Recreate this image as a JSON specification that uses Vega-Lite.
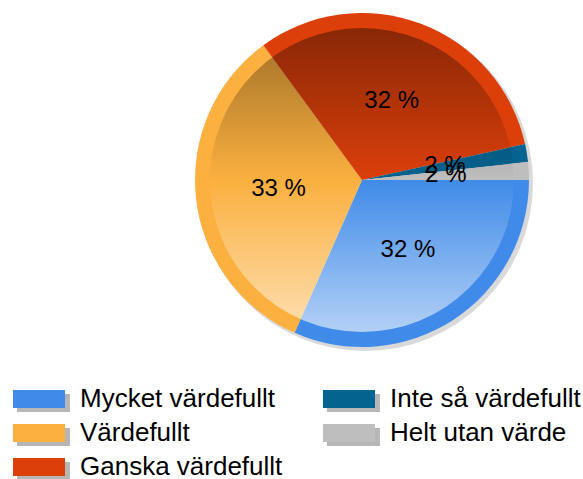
{
  "$schema": "https://vega.github.io/schema/vega-lite/v6.json",
  "width": 334,
  "height": 334,
  "autosize": {"type": "none"},
  "padding": {"left": 195, "top": 13, "right": 54, "bottom": 132},
  "background": "white",
  "config": {
    "view": {"stroke": null},
    "legend": {
      "orient": "none",
      "legendX": -182,
      "legendY": 377,
      "columns": 2,
      "columnPadding": 40,
      "rowPadding": 8,
      "padding": 0,
      "clipHeight": 18,
      "symbolType": "M-1,-0.346H1V0.346H-1Z",
      "symbolSize": 2704,
      "symbolStrokeWidth": 0,
      "symbolOpacity": 1,
      "labelOffset": 15,
      "labelFont": "Liberation Sans",
      "labelFontSize": 26,
      "labelColor": "#000000",
      "labelLimit": 400,
      "title": null
    }
  },
  "layer": [
    {
      "data": {"values": [{"k": 1}]},
      "mark": {"type": "arc", "theta": 0, "theta2": 6.2832, "outerRadius": 168, "xOffset": 3, "yOffset": 3, "fill": "#000000", "opacity": 0.15}
    },
    {
      "data": {"values": [
        {"cat": "Mycket värdefullt", "sh": "Mycket värdefullt", "n": 55, "ord": 1, "label": "32 %"},
        {"cat": "Värdefullt", "sh": "Värdefullt", "n": 58, "ord": 2, "label": "33 %"},
        {"cat": "Ganska värdefullt", "sh": "Ganska värdefullt", "n": 55, "ord": 3, "label": "32 %"},
        {"cat": "Inte så värdefullt", "sh": "Inte så värdefullt", "n": 3, "ord": 4, "label": "2 %"},
        {"cat": "Helt utan värde", "sh": "Helt utan värde", "n": 3, "ord": 5, "label": "2 %"}
      ]},
      "encoding": {
        "theta": {"field": "n", "type": "quantitative", "stack": true, "scale": {"range": [1.5708, 7.854]}},
        "order": {"field": "ord", "type": "quantitative", "sort": "ascending"}
      },
      "layer": [
        {
          "mark": {"type": "arc", "outerRadius": 167, "opacity": 0},
          "encoding": {
            "fill": {
              "field": "sh",
              "type": "nominal",
              "sort": {"field": "ord", "op": "min", "order": "ascending"},
              "scale": {"range": ["#7a7a7a", "#7a7a7a", "#7a7a7a", "#7a7a7a", "#7a7a7a"]},
              "legend": {
                "symbolType": "M1,-0.19H1.19V0.536H-0.85V0.346H1Z",
                "symbolOpacity": 0.55,
                "labelColor": "rgba(0,0,0,0)"
              }
            }
          }
        },
        {
          "mark": {"type": "arc", "outerRadius": 167, "stroke": null},
          "encoding": {
            "color": {
              "field": "cat",
              "type": "nominal",
              "scale": {
                "domain": ["Mycket värdefullt", "Värdefullt", "Ganska värdefullt", "Inte så värdefullt", "Helt utan värde"],
                "range": ["#408be9", "#fbb03f", "#dc3f0a", "#05638f", "#bebebe"]
              },
              "legend": {}
            }
          }
        },
        {
          "data": {"values": [{"k": 1}]},
          "mark": {
            "type": "arc", "theta": 0, "theta2": 6.2832, "outerRadius": 152,
            "fill": {
              "gradient": "linear", "x1": 0, "y1": 0, "x2": 0, "y2": 1,
              "stops": [
                {"offset": 0, "color": "rgba(0,0,0,0.38)"},
                {"offset": 0.5, "color": "rgba(0,0,0,0)"},
                {"offset": 0.5, "color": "rgba(255,255,255,0)"},
                {"offset": 1, "color": "rgba(255,255,255,0.6)"}
              ]
            }
          },
          "encoding": {"theta": null, "order": null}
        },
        {
          "mark": {"type": "text", "radius": 84, "font": "Liberation Sans", "fontSize": 24, "fill": "#000000", "baseline": "middle", "align": "center"},
          "encoding": {"text": {"field": "label"}}
        }
      ]
    }
  ]
}
